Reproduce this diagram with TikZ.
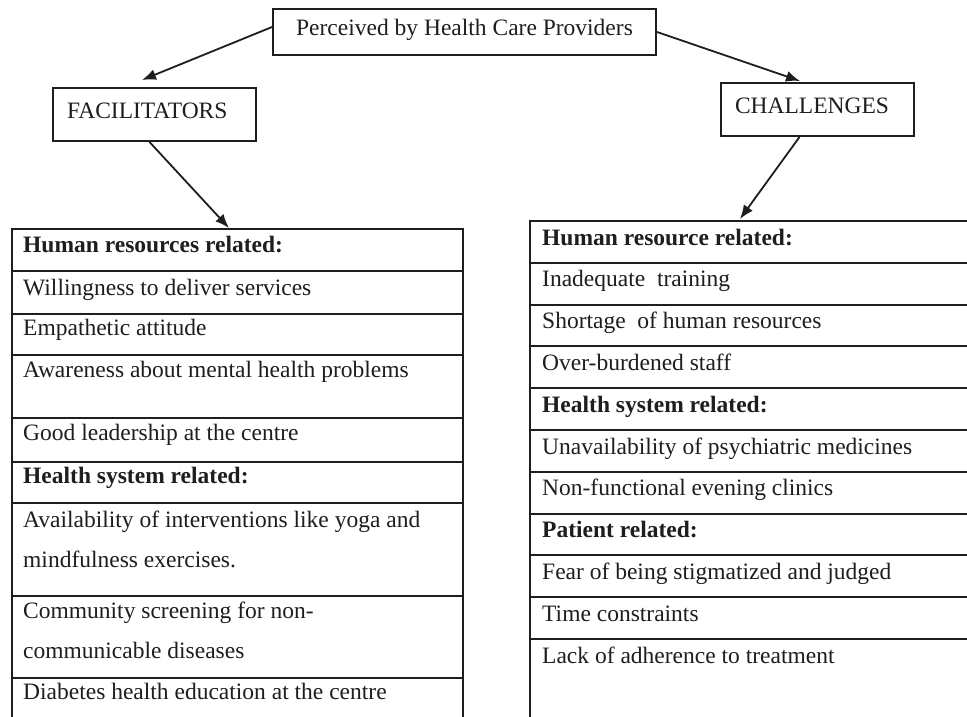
\documentclass[tikz,border=0pt]{standalone}
\usepackage{fontspec}
\setmainfont{Liberation Serif}
\usetikzlibrary{arrows.meta}

\definecolor{ink}{HTML}{1E1E1E}

\tikzset{
  box/.style={draw=ink, line width=2pt, inner sep=0pt, anchor=north west,
    text height=16pt, text depth=8pt, font=\fontsize{23.5}{28}\selectfont, text=ink},
  cell/.style={draw=ink, line width=2pt, inner sep=0pt, anchor=north west},
  celltext/.style={anchor=base west, inner sep=0pt, text=ink,
    font=\fontsize{23.5}{28}\selectfont},
  headtext/.style={celltext, font=\fontsize{23.5}{28}\selectfont\bfseries},
  link/.style={draw=ink, line width=1.8pt, -{Latex[length=14pt,width=11pt]}},
}

\begin{document}
\begin{tikzpicture}[x=1pt,y=-1pt]
\clip (0,0) rectangle (967,717);
\fill[white] (0,0) rectangle (967,717);

% top level and the two categories
\node[box, minimum width=383pt, minimum height=46pt] (top) at (272,8) {Perceived by Health Care Providers};
\node[box, minimum width=203pt, minimum height=53pt, text width=175pt, align=left] (fac) at (52,87) {FACILITATORS};
\node[box, minimum width=193pt, minimum height=53pt, text width=165pt, align=left] (cha) at (720,82) {CHALLENGES};

% ---- facilitators table ----
\node[cell, minimum width=451pt, minimum height=42pt]   (l1) at (11,228)   {};
\node[cell, minimum width=451pt, minimum height=42.5pt] (l2) at (11,270)   {};
\node[cell, minimum width=451pt, minimum height=41.5pt] (l3) at (11,312.5) {};
\node[cell, minimum width=451pt, minimum height=63pt]   (l4) at (11,354)   {};
\node[cell, minimum width=451pt, minimum height=44pt]   (l5) at (11,417)   {};
\node[cell, minimum width=451pt, minimum height=41pt]   (l6) at (11,461)   {};
\node[cell, minimum width=451pt, minimum height=92.5pt] (l7) at (11,502)   {};
\node[cell, minimum width=451pt, minimum height=82.5pt] (l8) at (11,594.5) {};
\node[cell, minimum width=451pt, minimum height=80pt]   (l9) at (11,677)   {};

\node[headtext] (t1) at ([shift={(12,24)}]l1.north west) {Human resources related:};
\node[celltext] (t2) at ([shift={(12,25)}]l2.north west) {Willingness to deliver services};
\node[celltext] (t3) at ([shift={(12,23)}]l3.north west) {Empathetic attitude};
\node[celltext] (t4) at ([shift={(12,23)}]l4.north west) {Awareness about mental health problems};
\node[celltext] (t5) at ([shift={(12,23)}]l5.north west) {Good leadership at the centre};
\node[headtext] (t6) at ([shift={(12,22)}]l6.north west) {Health system related:};
\node[celltext] (t7a) at ([shift={(12,25)}]l7.north west) {Availability of interventions like yoga and};
\node[celltext] (t7b) at ([shift={(12,65)}]l7.north west) {mindfulness exercises.};
\node[celltext] (t8a) at ([shift={(12,23.5)}]l8.north west) {Community screening for non-};
\node[celltext] (t8b) at ([shift={(12,63.5)}]l8.north west) {communicable diseases};
\node[celltext] (t9) at ([shift={(12,22)}]l9.north west) {Diabetes health education at the centre};

% ---- challenges table ----
\foreach \i in {0,...,9}{
  \node[cell, minimum width=470pt, minimum height=41.8pt] (r\i) at (529,{220+41.8*\i}) {};
}
\node[cell, minimum width=470pt, minimum height=100pt] (r10) at (529,638) {};

\node[headtext] (s0) at ([shift={(13,25)}]r0.north west) {Human resource related:};
\node[celltext] (s1) at ([shift={(13,25)}]r1.north west) {Inadequate\ \ training};
\node[celltext] (s2) at ([shift={(13,25)}]r2.north west) {Shortage\ \ of human resources};
\node[celltext] (s3) at ([shift={(13,25)}]r3.north west) {Over-burdened staff};
\node[headtext] (s4) at ([shift={(13,25)}]r4.north west) {Health system related:};
\node[celltext] (s5) at ([shift={(13,25)}]r5.north west) {Unavailability of psychiatric medicines};
\node[celltext] (s6) at ([shift={(13,25)}]r6.north west) {Non-functional evening clinics};
\node[headtext] (s7) at ([shift={(13,25)}]r7.north west) {Patient related:};
\node[celltext] (s8) at ([shift={(13,25)}]r8.north west) {Fear of being stigmatized and judged};
\node[celltext] (s9) at ([shift={(13,25)}]r9.north west) {Time constraints};
\node[celltext] (s10) at ([shift={(13,25)}]r10.north west) {Lack of adherence to treatment};

% ---- arrows ----
\coordinate (facTip) at (142,80);
\coordinate (chaTip) at (800,81);
\coordinate (lTip) at (229,228);
\coordinate (rTip) at (740,219);
\draw[link] ([yshift=5pt]top.west) -- (facTip);
\draw[link] (top.east) -- (chaTip);
\draw[link] ([xshift=-5pt]fac.south) -- (lTip);
\draw[link] ([xshift=-18pt]cha.south) -- (rTip);
\end{tikzpicture}
\end{document}
